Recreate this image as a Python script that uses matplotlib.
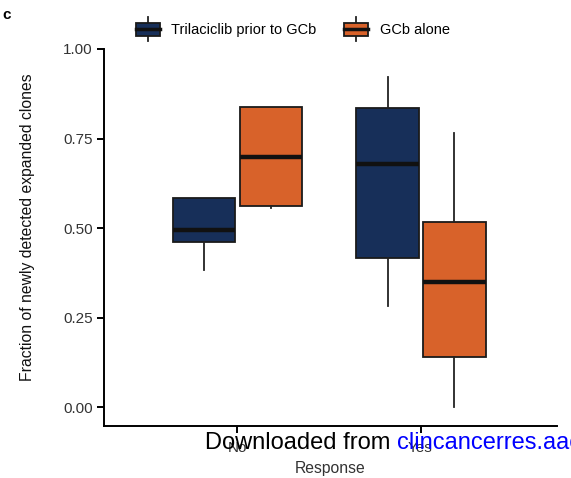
import matplotlib
matplotlib.use("Agg")
import matplotlib.pyplot as plt
from matplotlib.patches import Rectangle
from matplotlib.lines import Line2D
from matplotlib.legend_handler import HandlerBase

plt.rcParams['font.family'] = ['Liberation Sans', 'DejaVu Sans']

# values
groups = ["No", "Yes"]
series = ["Trilaciclib prior to GCb", "GCb alone"]
colors = ["#172f59", "#d8622a"]

tri_whislo = [0.382, 0.282]
tri_q1 = [0.461, 0.416]
tri_med = [0.494, 0.679]
tri_q3 = [0.584, 0.836]
tri_whishi = [0.584, 0.922]

gcb_whislo = [0.556, 0.000]
gcb_q1 = [0.562, 0.139]
gcb_med = [0.699, 0.349]
gcb_q3 = [0.839, 0.517]
gcb_whishi = [0.839, 0.766]

yticks = [0.0, 0.25, 0.5, 0.75, 1.0]


def make_stats(lo, q1, med, q3, hi):
    return [dict(whislo=a, q1=b, med=c, q3=d, whishi=e, fliers=[])
            for a, b, c, d, e in zip(lo, q1, med, q3, hi)]


stats = [make_stats(tri_whislo, tri_q1, tri_med, tri_q3, tri_whishi),
         make_stats(gcb_whislo, gcb_q1, gcb_med, gcb_q3, gcb_whishi)]

fig = plt.figure(figsize=(5.71, 4.78), dpi=100)
ax = fig.add_axes([0.182, 0.109, 0.793, 0.7885])

offsets = [-0.18, 0.185]
width = 0.34
for s, off, col in zip(stats, offsets, colors):
    pos = [i + off for i in range(len(groups))]
    ax.bxp(s, positions=pos, widths=width, showcaps=False, patch_artist=True,
           boxprops=dict(facecolor=col, edgecolor="#1a1a1a", linewidth=1.3),
           medianprops=dict(color="#111111", linewidth=3.2, solid_capstyle="butt"),
           whiskerprops=dict(color="#222222", linewidth=1.3),
           manage_ticks=False, zorder=2)

ax.set_xlim(-0.727, 1.743)
ax.set_ylim(-0.052, 1.0)
ax.set_xticks(range(len(groups)))
ax.set_xticklabels(groups)
ax.set_yticks(yticks)
ax.set_yticklabels(["%.2f" % v for v in yticks])
ax.spines['top'].set_visible(False)
ax.spines['right'].set_visible(False)
for sp in ['left', 'bottom']:
    ax.spines[sp].set_linewidth(1.4)
ax.tick_params(axis='both', length=5, width=1.4, labelsize=11, labelcolor="#333333")
ax.tick_params(axis='y', pad=3)
ax.tick_params(axis='x', pad=6)
ax.set_xlabel("Response", fontsize=11.3, color="#333333", labelpad=4)
ax.set_ylabel("Fraction of newly detected expanded clones", fontsize=11.3, color="#111111")
ax.yaxis.set_label_coords(-0.152, 0.527)


class BoxHandler(HandlerBase):
    def create_artists(self, legend, orig_handle, xdescent, ydescent,
                       width, height, fontsize, trans):
        x0, y0 = -xdescent, -ydescent
        cx = x0 + width / 2
        wl = Line2D([cx, cx], [y0 - 4, y0 + height + 4], color="#222222", lw=1.3, transform=trans)
        rect = Rectangle((x0, y0), width, height, facecolor=orig_handle.get_facecolor(),
                         edgecolor="#1a1a1a", lw=1.3, transform=trans)
        ml = Line2D([x0, x0 + width], [y0 + height / 2] * 2, color="#111111", lw=2.5, transform=trans)
        return [wl, rect, ml]


handles = [Rectangle((0, 0), 1, 1, facecolor=c) for c in colors]
fig.legend(handles, series, handler_map={Rectangle: BoxHandler()}, loc='center',
           bbox_to_anchor=(0.513, 0.937), ncol=2, frameon=False, fontsize=10.5,
           handlelength=1.65, handleheight=0.95, handletextpad=0.8, columnspacing=1.9)

fig.text(0.004, 0.968, "c", fontsize=11, fontweight='bold', va='center')

# watermark text from the source page
t = fig.text(0.359, 0.074, "Downloaded from ", fontsize=17, color="black", va='center')
fig.canvas.draw()
bb = t.get_window_extent()
fig.text(bb.x1 / fig.bbox.width, 0.074, "clincancerres.aacrjournals.org", fontsize=17,
         color="blue", va='center')

fig.savefig("out.png", dpi=100)
